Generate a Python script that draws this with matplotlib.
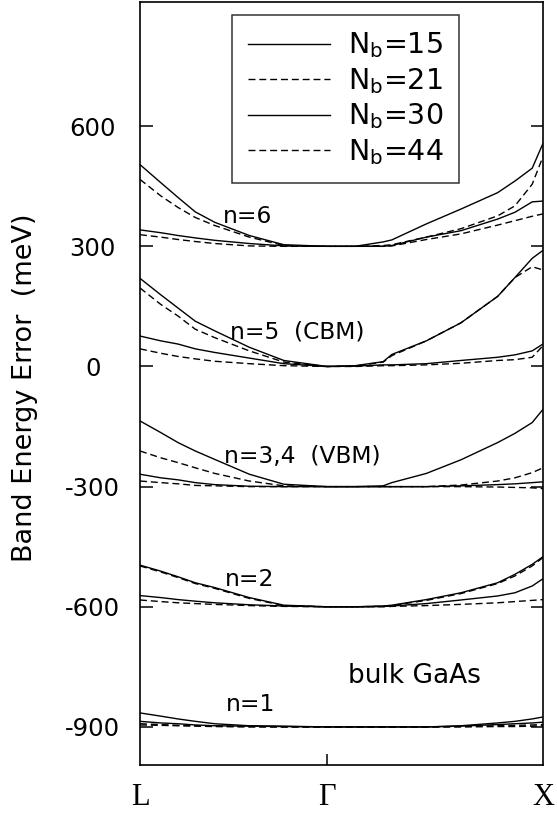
import matplotlib
matplotlib.use("Agg")
import matplotlib.pyplot as plt

# ---------------- data ----------------
# k-path positions: L = -0.866, Gamma = 0, X = 1
k_path = [-0.866, -0.77, -0.69, -0.61, -0.52, -0.36, -0.2, 0.0, 0.13, 0.26, 0.3,
          0.46, 0.62, 0.79, 0.87, 0.95, 1.0]
k_ticks = [-0.866, 0.0, 1.0]
k_tick_labels = ["L", "\u0393", "X"]

nb_labels = ["15", "21", "30", "44"]
nb_styles = ["solid", "dashed", "solid", "dashed"]

band_names = ["n=1", "n=2", "n=3,4  (VBM)", "n=5  (CBM)", "n=6"]
band_offsets = [-900, -600, -300, 0, 300]

# band energy error (meV) relative to each band's offset
n1_nb15 = [35, 27, 20, 14, 8, 3, 2, 0, 0, 0, 0, 0, 3, 10, 14, 20, 25]
n1_nb21 = [8, 6, 4, 3, 2, 1, 0, 0, 0, 0, 0, 0, 1, 3, 4, 5, 6]
n1_nb30 = [14, 10, 8, 5, 3, 2, 1, 0, 0, 0, 0, 0, 2, 6, 8, 10, 12]
n1_nb44 = [5, 4, 3, 2, 1, 0, 0, 0, 0, 0, 0, 0, 0, 1, 1, 2, 3]

n2_nb15 = [104, 89, 75, 60, 48, 23, 4, 0, 0, 2, 4, 18, 35, 60, 81, 106, 125]
n2_nb21 = [102, 87, 73, 58, 46, 21, 3, 0, 0, 1, 3, 16, 33, 58, 77, 102, 123]
n2_nb30 = [28, 23, 18, 14, 10, 5, 2, 0, 0, 1, 2, 8, 17, 27, 35, 52, 70]
n2_nb44 = [17, 13, 10, 8, 6, 3, 1, 0, 0, 0, 1, 3, 6, 10, 13, 16, 18]

n34_nb15 = [164, 135, 110, 89, 68, 31, 6, 0, 0, 2, 10, 33, 67, 110, 133, 160, 193]
n34_nb21 = [89, 72, 60, 47, 33, 14, 2, 0, 0, 0, 0, 0, 4, 14, 22, 35, 47]
n34_nb30 = [31, 22, 17, 10, 5, 1, 0, 0, 0, 0, 0, 0, 2, 5, 7, 10, 12]
n34_nb44 = [14, 10, 7, 3, 2, 0, 0, 0, 0, 0, 0, 0, 0, -1, -2, -3, -5]

n5_nb15 = [220, 179, 146, 113, 89, 48, 15, 0, 2, 12, 30, 64, 109, 175, 222, 270, 290]
n5_nb21 = [196, 155, 126, 93, 72, 39, 11, 0, 1, 11, 27, 64, 109, 175, 222, 249, 241]
n5_nb30 = [76, 64, 56, 44, 35, 21, 7, 0, 1, 4, 4, 7, 15, 23, 29, 39, 56]
n5_nb44 = [44, 33, 25, 19, 13, 7, 2, 0, 0, 2, 2, 4, 8, 15, 17, 23, 52]

n6_nb15 = [204, 159, 122, 86, 60, 27, 4, 0, 0, 11, 16, 56, 93, 134, 163, 195, 257]
n6_nb21 = [167, 126, 97, 72, 52, 23, 2, 0, 0, 2, 4, 23, 44, 76, 101, 155, 224]
n6_nb30 = [41, 34, 27, 21, 15, 7, 1, 0, 0, 0, 2, 23, 39, 68, 85, 111, 113]
n6_nb44 = [29, 23, 17, 12, 7, 1, 0, 0, 0, 0, 1, 17, 31, 53, 64, 75, 81]

bands = [
    [n1_nb15, n1_nb21, n1_nb30, n1_nb44],
    [n2_nb15, n2_nb21, n2_nb30, n2_nb44],
    [n34_nb15, n34_nb21, n34_nb30, n34_nb44],
    [n5_nb15, n5_nb21, n5_nb30, n5_nb44],
    [n6_nb15, n6_nb21, n6_nb30, n6_nb44],
]

# label positions (k, energy) for band annotations
band_label_pos = [(-0.467, -860), (-0.475, -547), (-0.475, -242), (-0.45, 70), (-0.484, 357)]
y_ticks = [600, 300, 0, -300, -600, -900]

# ---------------- plot ----------------
plt.rcParams["font.family"] = ["DejaVu Sans"]
plt.rcParams["mathtext.fontset"] = "custom"
plt.rcParams["mathtext.rm"] = "DejaVu Sans"
plt.rcParams["mathtext.it"] = "DejaVu Sans:italic"

fig = plt.figure(figsize=(5.57, 8.14), dpi=100)
ax = fig.add_axes([140 / 557, 1 - 765 / 814, 403 / 557, 763 / 814])

handles = []
for bi, (off, curves) in enumerate(zip(band_offsets, bands)):
    for ci, err in enumerate(curves):
        ls = nb_styles[ci]
        kw = dict(color="black", lw=1.0)
        if ls == "dashed":
            kw["dashes"] = (5, 2.8)
        line, = ax.plot(k_path, [off + e for e in err], **kw)
        if bi == 0:
            handles.append(line)

for name, (kx, ey) in zip(band_names, band_label_pos):
    ax.text(kx, ey, name, fontsize=16.8, ha="left", va="baseline")

ax.text(0.097, -790, "bulk GaAs", fontsize=19, ha="left", va="baseline")

ax.set_xlim(-0.866, 1.0)
ax.set_ylim(-995, 910)

ax.set_xticks([k_ticks[1]])
ax.set_xticklabels([])
for kx, lab in zip(k_ticks, k_tick_labels):
    ax.text(kx, -0.024, lab, transform=ax.get_xaxis_transform(), ha="center", va="top",
            fontsize=22, family=["Liberation Serif", "DejaVu Serif"])

ax.set_yticks(y_ticks)
ax.set_yticklabels([str(v) for v in y_ticks])
ax.tick_params(axis="y", direction="in", length=9, width=1.1, left=True, right=True,
               labelsize=17.5, pad=34)
ax.tick_params(axis="x", direction="in", length=8, width=1.1, bottom=True, top=False)
for t in ax.get_yticklabels():
    t.set_horizontalalignment("center")

for sp in ax.spines.values():
    sp.set_linewidth(1.2)

fig.text(25 / 557, 1 - 388 / 814, "Band Energy Error  (meV)", rotation=90,
         ha="center", va="center", fontsize=19.5)

leg = ax.legend(handles, [r"N$_{\mathregular{b}}$=" + s for s in nb_labels],
                loc="upper left", bbox_to_anchor=(0.228, 0.983), fontsize=20.5,
                frameon=True, fancybox=False, handlelength=2.9, handletextpad=0.63,
                labelspacing=0.2, borderpad=0.55, borderaxespad=0.0)
leg.get_frame().set_edgecolor("black")
leg.get_frame().set_linewidth(1.1)

fig.savefig("out.png", dpi=100)
